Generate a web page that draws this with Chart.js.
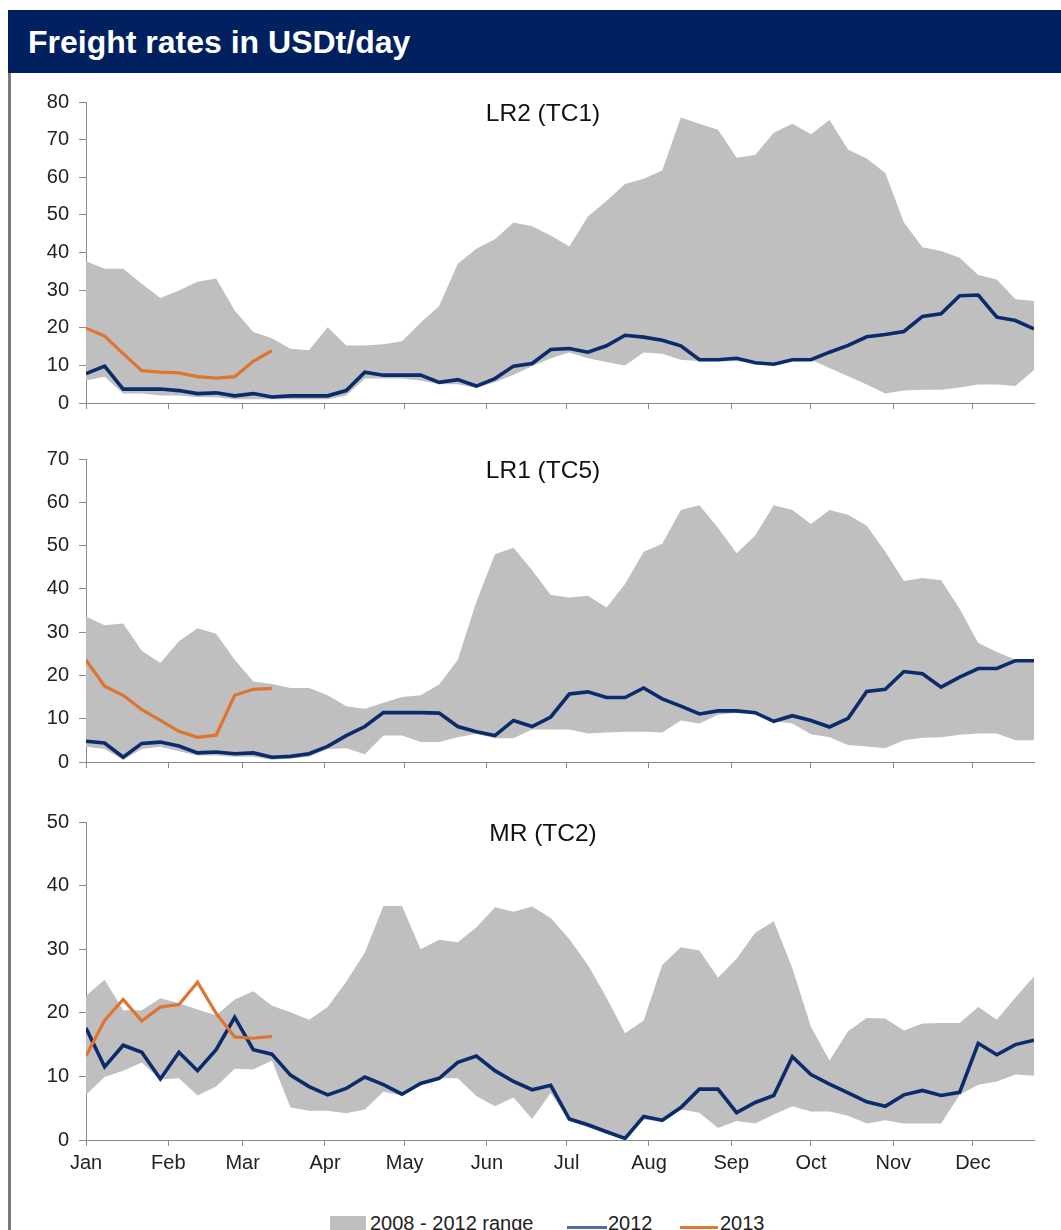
<!DOCTYPE html>
<html>
<head>
<meta charset="utf-8">
<script src="https://cdn.jsdelivr.net/npm/chart.js@4.4.1/dist/chart.umd.min.js"></script>
<style>
  body { margin: 0; width: 1061px; height: 1230px; overflow: hidden; background: #fff; position: relative;
         font-family: 'Liberation Sans', Arial, sans-serif; }
  .header { position: absolute; left: 8px; top: 10px; right: 0; height: 63px; background: #002060;
            color: #fff; font-weight: bold; font-size: 32px; line-height: 64px; padding-left: 20px; }
  .frame { position: absolute; left: 8px; top: 73px; width: 3px; height: 1157px; background: #7a7a7a; }
  .panel { position: absolute; left: 0; width: 1061px; }
  .legend-item { position: absolute; top: 1213px; font-size: 20px; line-height: 20px; color: #222; white-space: nowrap; }
  .legend-box { position: absolute; left: 330px; top: 1216px; width: 36px; height: 20px; background: #bfbfbf; }
  .legend-line { position: absolute; top: 1226px; height: 3px; }
</style>
</head>
<body>
<div class="header">Freight rates in USDt/day</div>
<div class="frame"></div>

<div class="panel" style="top:80px;height:345px"><canvas id="lr2" width="1061" height="345"></canvas></div>
<div class="panel" style="top:437px;height:347px"><canvas id="lr1" width="1061" height="347"></canvas></div>
<div class="panel" style="top:800px;height:400px"><canvas id="mr" width="1061" height="400"></canvas></div>

<div class="legend-box"></div>
<div class="legend-item" style="left:370px">2008 - 2012 range</div>
<div class="legend-line" style="left:567px;width:40px;background:#4a6fa5"></div>
<div class="legend-item" style="left:608px">2012</div>
<div class="legend-line" style="left:680px;width:38px;background:#e0782f"></div>
<div class="legend-item" style="left:720px">2013</div>

<script>
// x axis: 52 weekly points, month ticks placed at the first day of each month
const months        = ['Jan', 'Feb', 'Mar', 'Apr', 'May', 'Jun', 'Jul', 'Aug', 'Sep', 'Oct', 'Nov', 'Dec'];
const monthStartDay = [0, 31, 59, 90, 120, 151, 181, 212, 243, 273, 304, 334];

// ── LR2 (TC1) ──────────────────────────────────────────────────────────────
const lr2Upper = [37.7, 35.7, 35.7, 31.7, 27.9, 29.9, 32.2, 33.1, 24.6, 18.9,
                  17.2, 14.4, 14.0, 20.1, 15.3, 15.3, 15.6, 16.4, 21.3, 25.8,
                  37.0, 41.0, 43.5, 48.0, 47.0, 44.5, 41.6, 49.6, 53.7, 58.2,
                  59.6, 61.8, 75.9, 74.2, 72.6, 65.2, 65.9, 71.8, 74.2, 71.4,
                  75.2, 67.3, 65.0, 61.1, 48.0, 41.4, 40.4, 38.6, 34.0, 32.8,
                  27.6, 27.1];
const lr2Lower = [6.0, 7.0, 2.5, 2.5, 2.0, 2.0, 1.5, 1.5, 1.0, 1.0,
                  1.0, 1.0, 1.0, 1.0, 2.0, 6.5, 6.5, 6.5, 6.0, 5.0,
                  5.0, 4.0, 5.5, 7.5, 9.8, 11.9, 13.4, 11.9, 10.9, 10.0,
                  13.4, 13.1, 11.5, 11.1, 11.1, 11.1, 10.7, 10.3, 11.1, 11.5,
                  9.3, 7.1, 4.9, 2.5, 3.3, 3.5, 3.5, 4.1, 4.9, 4.9,
                  4.5, 8.8];
const lr2Y2012 = [7.8, 9.8, 3.7, 3.7, 3.7, 3.3, 2.5, 2.7, 1.9, 2.5,
                  1.6, 1.9, 1.9, 1.9, 3.3, 8.2, 7.4, 7.4, 7.4, 5.5,
                  6.2, 4.5, 6.5, 9.8, 10.5, 14.2, 14.5, 13.5, 15.2, 18.0,
                  17.5, 16.7, 15.2, 11.5, 11.5, 11.9, 10.7, 10.3, 11.5, 11.5,
                  13.5, 15.3, 17.6, 18.2, 19.0, 23.0, 23.7, 28.5, 28.7, 22.8,
                  21.9, 19.7];
const lr2Y2013 = [19.9, 17.8, 13.1, 8.6, 8.2, 8.0, 7.0, 6.6, 7.0, 11.1, 13.9];

// ── LR1 (TC5) ──────────────────────────────────────────────────────────────
const lr1Upper = [33.6, 31.6, 32.0, 25.7, 22.9, 27.9, 30.9, 29.6, 23.6, 18.6,
                  18.0, 17.1, 17.1, 15.4, 12.9, 12.3, 13.7, 15.0, 15.4, 17.9,
                  23.6, 37.0, 48.0, 49.5, 44.3, 38.6, 38.0, 38.4, 35.7, 41.1,
                  48.6, 50.4, 58.2, 59.3, 54.1, 48.2, 52.3, 59.3, 58.2, 55.0,
                  58.2, 57.1, 54.6, 48.6, 41.8, 42.5, 42.0, 35.4, 27.5, 25.4,
                  23.6, 23.5];
const lr1Lower = [3.5, 3.0, 0.5, 3.0, 3.5, 2.5, 1.5, 1.5, 1.2, 1.2,
                  0.5, 0.8, 1.2, 3.0, 3.2, 1.8, 6.1, 6.1, 4.6, 4.6,
                  5.7, 6.5, 5.5, 5.5, 7.5, 7.5, 7.5, 6.6, 6.8, 7.0,
                  7.0, 6.8, 9.6, 8.9, 10.9, 11.4, 11.3, 9.4, 8.9, 6.4,
                  5.7, 3.9, 3.6, 3.2, 5.0, 5.6, 5.7, 6.3, 6.6, 6.6,
                  5.0, 5.0];
const lr1Y2012 = [4.8, 4.4, 1.1, 4.3, 4.6, 3.7, 2.1, 2.3, 1.9, 2.1,
                  1.1, 1.3, 1.9, 3.6, 6.1, 8.2, 11.4, 11.4, 11.4, 11.3,
                  8.2, 7.0, 6.1, 9.6, 8.2, 10.4, 15.7, 16.2, 14.9, 14.9,
                  17.1, 14.6, 12.9, 11.1, 11.8, 11.8, 11.4, 9.4, 10.7, 9.6,
                  8.1, 10.1, 16.3, 16.8, 20.9, 20.4, 17.3, 19.6, 21.6, 21.6,
                  23.4, 23.4];
const lr1Y2013 = [23.6, 17.5, 15.4, 12.1, 9.6, 7.1, 5.7, 6.2, 15.4, 16.8, 17.0];

// ── MR (TC2) ───────────────────────────────────────────────────────────────
const mrUpper = [22.7, 25.2, 20.4, 20.4, 22.3, 21.5, 20.5, 19.6, 22.1, 23.4,
                 21.1, 20.1, 18.9, 20.9, 24.9, 29.5, 36.8, 36.8, 30.0, 31.5,
                 31.1, 33.4, 36.6, 35.9, 36.7, 34.9, 31.6, 27.5, 22.4, 16.8,
                 18.8, 27.5, 30.3, 29.8, 25.5, 28.5, 32.6, 34.4, 27.0, 17.8,
                 12.5, 17.1, 19.2, 19.1, 17.2, 18.3, 18.4, 18.4, 20.9, 18.9,
                 22.4, 25.7];
const mrLower = [7.1, 9.9, 10.9, 12.2, 9.5, 9.7, 7.0, 8.4, 11.2, 11.1,
                 12.5, 5.1, 4.6, 4.6, 4.2, 4.8, 7.6, 7.0, 8.7, 9.7,
                 9.7, 6.9, 5.3, 6.7, 3.3, 7.4, 3.0, 2.0, 1.0, 0.0,
                 3.2, 3.0, 4.8, 4.3, 1.9, 3.0, 2.6, 4.0, 5.3, 4.5,
                 4.5, 3.8, 2.6, 3.1, 2.6, 2.6, 2.6, 7.1, 8.7, 9.2,
                 10.3, 10.1];
const mrY2012 = [17.6, 11.5, 14.9, 13.8, 9.6, 13.8, 10.9, 14.2, 19.3, 14.2,
                 13.5, 10.2, 8.4, 7.1, 8.1, 9.9, 8.7, 7.2, 8.9, 9.7,
                 12.2, 13.2, 10.9, 9.2, 7.9, 8.6, 3.3, 2.4, 1.3, 0.25,
                 3.7, 3.1, 5.1, 8.0, 8.0, 4.3, 5.9, 7.0, 13.1, 10.3,
                 8.8, 7.4, 6.0, 5.3, 7.1, 7.8, 7.0, 7.5, 15.2, 13.4,
                 15.0, 15.7];
const mrY2013 = [13.2, 18.8, 22.1, 18.7, 20.9, 21.3, 24.8, 19.9, 16.2, 16.0, 16.3];

const colors = {
  band:   '#bfbfbf',
  navy:   '#0a2c6c',
  orange: '#df7430',
  axis:   '#8a8a8a',
  text:   '#222222'
};
const FONT = "'Liberation Sans', Arial, sans-serif";

const toPoints = arr => arr.map((v, i) => ({ x: i, y: v }));
const monthTicks = monthStartDay.map(d => d / 7);

// draws the panel name inside the plot area
const panelTitle = {
  id: 'panelTitle',
  afterDatasetsDraw(chart, args, opts) {
    const { ctx, chartArea } = chart;
    ctx.save();
    ctx.font = '24.5px ' + FONT;
    ctx.fillStyle = '#111';
    ctx.textAlign = 'center';
    ctx.textBaseline = 'middle';
    ctx.fillText(opts.text, 543, chartArea.top + 12);
    ctx.restore();
  }
};

function makePanel(id, title, yMax, upper, lower, y2012, y2013, showMonths, xHeight) {
  const ctx = document.getElementById(id).getContext('2d');
  return new Chart(ctx, {
    type: 'line',
    data: {
      datasets: [
        { label: '2013', data: toPoints(y2013), borderColor: colors.orange, borderWidth: 3.2,
          pointRadius: 0, fill: false, tension: 0 },
        { label: '2012', data: toPoints(y2012), borderColor: colors.navy, borderWidth: 3.6,
          pointRadius: 0, fill: false, tension: 0 },
        { label: '2008 - 2012 range', data: toPoints(upper), borderWidth: 0, borderColor: colors.band,
          backgroundColor: colors.band, pointRadius: 0, fill: '+1', tension: 0 },
        { label: 'low', data: toPoints(lower), borderWidth: 0, pointRadius: 0, fill: false, tension: 0 }
      ]
    },
    options: {
      responsive: false,
      animation: false,
      devicePixelRatio: 1,
      layout: { padding: { top: 13, right: 27, left: 0, bottom: 0 } },
      plugins: {
        legend: { display: false },
        tooltip: { enabled: false },
        panelTitle: { text: title }
      },
      scales: {
        x: {
          type: 'linear', min: 0, max: 51,
          afterBuildTicks: s => { s.ticks = monthTicks.map(v => ({ value: v })); },
          afterFit: s => { s.height = xHeight; },
          grid: { display: true, drawOnChartArea: false, drawTicks: true, tickLength: 6, color: colors.axis },
          border: { display: true, color: colors.axis, width: 1 },
          ticks: {
            display: showMonths, autoSkip: false, maxRotation: 0, padding: 5,
            color: colors.text, font: { family: FONT, size: 20 },
            callback: (v, i) => months[i]
          }
        },
        y: {
          min: 0, max: yMax,
          afterFit: s => { s.width = 86; },
          grid: { display: true, drawOnChartArea: false, drawTicks: true, tickLength: 7, color: colors.axis },
          border: { display: true, color: colors.axis, width: 1 },
          ticks: { stepSize: 10, padding: 10, color: colors.text, font: { family: FONT, size: 20 } }
        }
      }
    },
    plugins: [panelTitle]
  });
}

makePanel('lr2', 'LR2 (TC1)', 80, lr2Upper, lr2Lower, lr2Y2012, lr2Y2013, false, 7);
makePanel('lr1', 'LR1 (TC5)', 70, lr1Upper, lr1Lower, lr1Y2012, lr1Y2013, false, 7);
makePanel('mr',  'MR (TC2)',  50, mrUpper,  mrLower,  mrY2012,  mrY2013,  true, 60);
</script>
</body>
</html>
